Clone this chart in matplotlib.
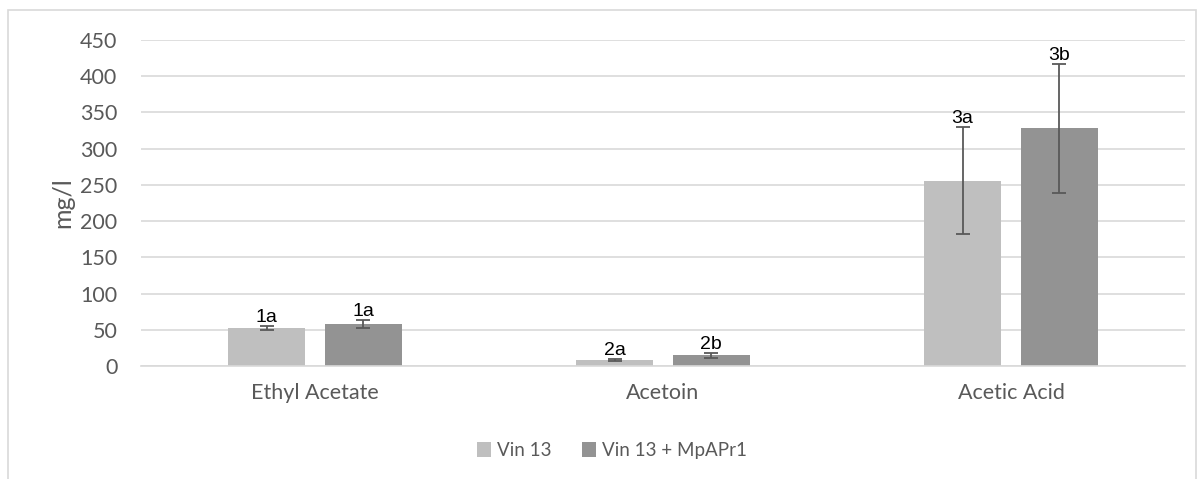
import matplotlib.pyplot as plt
import numpy as np
from matplotlib.patches import Rectangle

# data
categories = ["Ethyl Acetate", "Acetoin", "Acetic Acid"]
series_names = ["Vin 13", "Vin 13 + MpAPr1"]
vin13 = [52.5, 8.3, 256]
vin13_err = [2.5, 1.0, 74]
mpapr1 = [58.5, 14.7, 328]
mpapr1_err = [5.5, 3.5, 89]
labels_vin13 = ["1a", "2a", "3a"]
labels_mpapr1 = ["1a", "2b", "3b"]

colors = ["#BFBFBF", "#939393"]
text_grey = "#595959"

plt.rcParams['font.family'] = ['Lato', 'DejaVu Sans']

fig = plt.figure(figsize=(12, 4.79), dpi=100)
ax = fig.add_axes([0.1175, 0.2359, 0.87, 0.6806])

# outer chart frame
fig.patches.append(Rectangle((0.007, -0.05), 0.99, 1.029, transform=fig.transFigure,
                             fill=False, edgecolor="#D9D9D9", linewidth=1.2))

x = np.arange(len(categories))
width = 0.22
offset = 0.139

for vals, errs, labs, col, name, sign in [
        (vin13, vin13_err, labels_vin13, colors[0], series_names[0], -1),
        (mpapr1, mpapr1_err, labels_mpapr1, colors[1], series_names[1], 1)]:
    pos = x + sign * offset
    ax.bar(pos, vals, width, color=col, label=name, zorder=2)
    ax.errorbar(pos, vals, yerr=errs, fmt='none', ecolor="#595959",
                elinewidth=1.3, capsize=5, capthick=1.3, zorder=3)
    for p, v, e, t in zip(pos, vals, errs, labs):
        ax.annotate(t, (p, v + e), xytext=(0, 0), textcoords="offset points",
                    ha="center", va="bottom", fontsize=14, color="black",
                    family=["Liberation Sans", "DejaVu Sans"], zorder=4)

ax.set_xlim(-0.5, 2.5)
ax.set_ylim(0, 450)
ax.set_yticks(range(0, 451, 50))
ax.set_xticks(x)
ax.set_xticklabels(categories)
ax.tick_params(axis="both", length=0, labelsize=15.5, labelcolor=text_grey)
ax.tick_params(axis="x", pad=12)
ax.tick_params(axis="y", pad=17)
ax.grid(axis="y", color="#D9D9D9", linewidth=1.2, zorder=0)
ax.set_axisbelow(True)
for s in ["top", "right", "left"]:
    ax.spines[s].set_visible(False)
ax.spines["bottom"].set_color("#D9D9D9")
ax.spines["bottom"].set_linewidth(1.2)

ax.set_ylabel("mg/l", fontsize=18, color=text_grey, labelpad=4)

fig.legend(loc="center", bbox_to_anchor=(0.51, 0.06), ncol=2, frameon=False,
           fontsize=13.5, labelcolor=text_grey, handlelength=0.75, handleheight=0.9,
           handletextpad=0.35, columnspacing=1.6)

fig.savefig("out.png", dpi=100)
